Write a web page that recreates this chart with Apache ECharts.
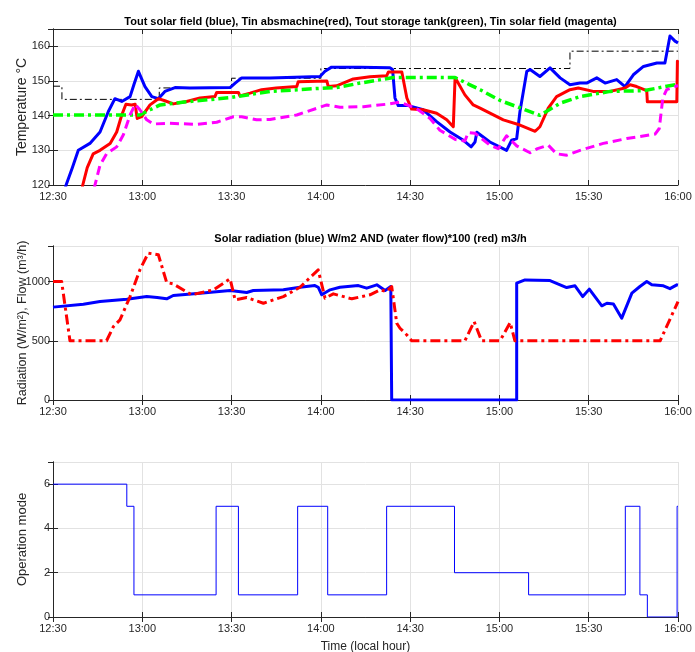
<!DOCTYPE html>
<html>
<head>
<meta charset="utf-8">
<script src="https://cdn.jsdelivr.net/npm/echarts@6/dist/echarts.min.js"></script>
<style>
html,body{margin:0;padding:0;background:#fff;}
#chart{width:695px;height:652px;}
</style>
</head>
<body>
<div id="chart"></div>
<script>
// time in minutes after 12:30
const tickLabels = ['12:30','13:00','13:30','14:00','14:30','15:00','15:30','16:00'];

const toutSolarField = [[3,115],[4.4,120],[6.5,125],[8.5,130],[12.4,132],[15.8,135.3],[18.6,141.2],[20.8,144.9],[23.1,144.1],[25.9,145.5],[27.2,149],[28.7,152.8],[30.9,148.4],[33.2,145.5],[35.4,144.9],[37.6,147],[41,148.1],[46,148],[59.5,148.1],[61.2,149.4],[63.4,150.9],[72.9,150.9],[89.7,151.3],[91.4,152.8],[93.6,154],[103.2,154],[113.2,153.8],[114.1,153.3],[114.9,145.1],[116,142.9],[119.4,142.9],[124.4,141.7],[128.9,138.3],[133.4,135.3],[137.9,132.9],[140.5,131],[141.8,132.4],[142.4,135.2],[146.8,132.4],[152.4,130],[154.1,132.9],[155.8,133.4],[156.9,141.2],[159.2,152.8],[160.3,153.3],[163.6,151.3],[167,153.8],[170.4,150.9],[173.7,148.9],[177.1,149.4],[179.3,149.4],[182.7,150.9],[185.5,149.4],[189.4,150.4],[192.2,148.4],[195,151.8],[198.4,154.2],[202.9,155.2],[205.6,155.2],[206.2,154.7],[207.3,163],[209,161.5],[210,161]];

const tinAbsmachine = [[9,115],[10,120],[11.5,125],[13.5,129],[15.8,130],[19.2,132],[21.4,135.3],[23.1,140.2],[24.5,143.3],[26.4,143.1],[27.6,143.3],[28.3,139.2],[29.8,139.7],[32.6,143.1],[35.4,144.9],[37.6,144.3],[40.4,143.4],[44.9,144.1],[49.4,145.1],[54.4,145.5],[55,146.7],[62.3,146.7],[62.8,145.7],[66.2,146.5],[70.1,147.5],[75,148],[81.9,148.4],[82.4,149.8],[92,150],[92.5,148.4],[95.3,148.6],[100.9,150.6],[106.5,151.2],[112.1,151.5],[112.7,152.6],[117.2,152.6],[118.9,145.1],[120.5,141.9],[124.4,141.7],[128.9,140.7],[132.3,138.8],[134.5,136.8],[135.1,151],[138.4,146],[141.2,143.1],[143.5,142.2],[151.3,138.8],[156.9,137.3],[162,135.5],[163.6,136.8],[166.4,142.2],[169.2,145.5],[173.7,147.5],[176.5,148],[181.5,147],[187.2,147],[192.2,148],[193.9,148.9],[196.1,148.4],[199.5,147.2],[199.7,144],[209.6,144],[209.8,155.7],[210,155.5]];

const toutStorageTank = [[0,140.2],[29.2,140.2],[32.6,141.7],[36,143.1],[46,144.1],[59.5,145.2],[72.9,147],[92,148],[95.3,148.1],[103.2,149.4],[114.4,151],[135.1,151],[140.1,148.9],[143.5,147.5],[150.2,144.4],[163.6,140.1],[170.4,143.6],[177.1,145.5],[187.2,147],[198.4,147.2],[210,149.1]];

const tinSolarField = [[13,115],[14.1,120],[15.8,125.7],[18,129],[21.4,131],[23.6,134.4],[25.9,140.2],[27.6,143.3],[29.2,141.7],[31.5,138.8],[33.7,137.6],[39.3,137.8],[48.3,137.5],[55,138.1],[60.6,139.7],[63.4,139.7],[68.4,138.8],[72.9,138.9],[81.9,140.2],[92,143.1],[96.4,142.4],[104.3,142.6],[112.1,143.3],[116.6,143.9],[122.2,142],[126.7,139.2],[130,135.8],[135.3,133.1],[138.4,132.7],[139.5,135.1],[141.8,134.9],[146.8,131.5],[149.6,130.5],[152.4,134.2],[155.8,131.3],[160.3,129.3],[162.8,130.5],[166.4,131.5],[169.2,129],[172.6,128.6],[177.1,130],[184.9,132],[192.8,133.4],[202.3,134.7],[203.7,136.3],[204.9,145.1],[206.2,147.5],[210,148.7]];

const setpointTemp = [[0,148.5],[3,148.5],[3,144.7],[35.7,144.7],[35.7,148],[60,148],[60,150.8],[90,150.8],[90,153.6],[173.7,153.6],[173.7,158.6],[210,158.6]];

const solarRadiation = [[0,784],[10.2,809],[15.8,831],[24.8,851],[31.5,873],[35,866],[38.2,854],[40.4,882],[49.4,902],[59.5,924],[65.1,907],[67.3,924],[77.4,930],[83,952],[88,966],[89.1,952],[90.3,888],[93.1,930],[96.4,952],[102.6,966],[105.4,944],[108.8,972],[111.6,924],[113.5,958],[113.8,0],[155.8,0],[155.8,986],[158.6,1014],[167,1008],[172.6,949],[175.4,964],[178,873],[180.2,936],[184.4,795],[186.1,817],[188.3,811],[191.1,691],[194.5,902],[197.2,958],[199.5,1000],[201.2,972],[205.1,964],[207.3,940],[209.6,972],[210,970]];

const waterFlow100 = [[0,1000],[2.9,1000],[5.7,500],[18,500],[20.3,620],[22.5,676],[25.9,873],[29.2,1099],[32,1240],[35.4,1226],[38.2,992],[40.4,980],[46.6,888],[53.9,930],[59.5,1023],[61.2,845],[65.1,865],[70.7,817],[77.4,873],[83,952],[89.1,1099],[91.4,860],[94.2,896],[100.4,854],[106.5,888],[109.9,930],[112.1,916],[113.8,958],[115.5,648],[116.6,606],[118.9,549],[120.5,500],[138.4,500],[141.5,662],[144,500],[150.2,500],[153.6,654],[155.2,500],[204,500],[210,831]];

const operationMode = [[0,6],[24.8,5],[27.2,1],[54.8,5],[62.3,1],[82.2,5],[92.3,1],[112.1,5],[134.9,2],[159.8,1],[192.3,5],[197.2,1],[199.7,0],[209.7,5],[210,5]];

const titles = [
  'Tout solar field (blue), Tin absmachine(red), Tout storage tank(green), Tin solar field (magenta)',
  'Solar radiation (blue) W/m2 AND (water flow)*100 (red) m3/h'
];
const yNames = ['Temperature °C', 'Radiation (W/m\u00B2), Flow (m\u00B3/h)', 'Operation mode'];
const xName = 'Time (local hour)';

const FONT = '"Liberation Sans", Arial, Helvetica, sans-serif';
const AX = '#262626';
const GRIDC = '#e2e2e2';

const grids = [
  {left: 53, right: 17, top: 29, height: 156, outerBoundsMode: 'none', containLabel: false},
  {left: 53, right: 17, top: 246, height: 154, outerBoundsMode: 'none', containLabel: false},
  {left: 53, right: 17, top: 462, height: 155, outerBoundsMode: 'none', containLabel: false}
];
const yRanges = [
  {min: 120, max: 165, interval: 10},
  {min: 0, max: 1300, interval: 500},
  {min: 0, max: 7, interval: 2}
];
const yNameSizes = [14, 12.5, 13];

const xAxes = [], yAxes = [];
grids.forEach((g, i) => {
  xAxes.push({
    type: 'value', gridIndex: i, min: 0, max: 210, interval: 30, position: 'bottom',
    axisLine: {show: true, lineStyle: {color: AX, width: 1}},
    axisTick: {show: true, inside: true, length: 5, lineStyle: {color: AX}},
    axisLabel: {color: AX, fontFamily: FONT, fontSize: 11, margin: 6,
      formatter: v => tickLabels[Math.round(v / 30)] || ''},
    splitLine: {show: true, lineStyle: {color: GRIDC, width: 1}},
    name: i === 2 ? xName : '', nameLocation: 'middle', nameGap: 24, nameMoveOverlap: false,
    nameTextStyle: {color: AX, fontFamily: FONT, fontSize: 12}
  });
  xAxes.push({
    type: 'value', gridIndex: i, min: 0, max: 210, interval: 30, position: 'top',
    axisLine: {show: true, lineStyle: {color: AX, width: 1}},
    axisTick: {show: true, inside: true, length: 5, lineStyle: {color: AX}},
    axisLabel: {show: false}, splitLine: {show: false}
  });
  const r = yRanges[i];
  yAxes.push({
    type: 'value', gridIndex: i, min: r.min, max: r.max, interval: r.interval, position: 'left',
    axisLine: {show: true, lineStyle: {color: AX, width: 1}},
    axisTick: {show: true, inside: true, length: 5, lineStyle: {color: AX}},
    axisLabel: {color: AX, fontFamily: FONT, fontSize: 11, margin: 3, showMaxLabel: false,
      formatter: v => String(v)},
    splitLine: {show: true, lineStyle: {color: GRIDC, width: 1}},
    name: yNames[i], nameLocation: 'middle', nameGap: 24, nameRotate: 90, nameMoveOverlap: false,
    nameTextStyle: {color: AX, fontFamily: FONT, fontSize: yNameSizes[i]}
  });
  yAxes.push({
    type: 'value', gridIndex: i, min: r.min, max: r.max, interval: r.interval, position: 'right',
    axisLine: {show: true, lineStyle: {color: AX, width: 1}},
    axisTick: {show: true, inside: true, length: 5, lineStyle: {color: AX}},
    axisLabel: {show: false}, splitLine: {show: false}
  });
});

function line(data, gi, color, width, type, step) {
  return {
    type: 'line', xAxisIndex: gi * 2, yAxisIndex: gi * 2, data: data,
    showSymbol: false, symbol: 'none', clip: true, animation: false,
    step: step || false,
    lineStyle: {color: color, width: width, type: type || 'solid', cap: 'butt', join: 'round'}
  };
}

const series = [
  line(setpointTemp, 0, '#000000', 1, [7, 3, 2, 3]),
  line(toutSolarField, 0, '#0000ff', 3),
  line(tinAbsmachine, 0, '#ff0000', 3),
  line(toutStorageTank, 0, '#00ff00', 3.5, [10, 4, 3, 4]),
  line(tinSolarField, 0, '#ff00ff', 3, [9, 5]),
  line(solarRadiation, 1, '#0000ff', 3),
  line(waterFlow100, 1, '#ff0000', 3, [10, 4, 3, 4]),
  line(operationMode, 2, '#0000ff', 1, 'solid', 'end')
];

const chart = echarts.init(document.getElementById('chart'), null, {renderer: 'canvas'});
chart.setOption({
  animation: false,
  backgroundColor: '#ffffff',
  title: [
    {text: titles[0], left: 365.5, top: 11, textAlign: 'center',
     textStyle: {fontFamily: FONT, fontSize: 11, fontWeight: 'bold', color: '#000'}},
    {text: titles[1], left: 365.5, top: 228, textAlign: 'center',
     textStyle: {fontFamily: FONT, fontSize: 11, fontWeight: 'bold', color: '#000'}}
  ],
  grid: grids,
  xAxis: xAxes,
  yAxis: yAxes,
  series: series
});
</script>
</body>
</html>
